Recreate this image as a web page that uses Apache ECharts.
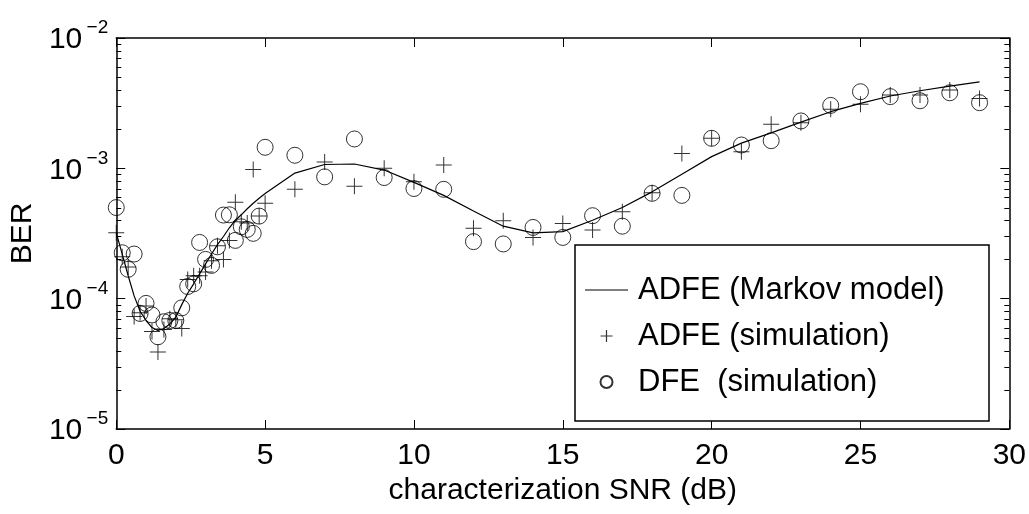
<!DOCTYPE html>
<html>
<head>
<meta charset="utf-8">
<title>BER vs characterization SNR</title>
<script src="https://cdn.jsdelivr.net/npm/echarts@6/dist/echarts.min.js"></script>
<style>
  html, body { margin: 0; padding: 0; background: #fff; }
  #chart { width: 1029px; height: 514px; }
</style>
</head>
<body>
<div id="chart"></div>
<script>
// characterization SNR (dB) at which every curve is evaluated
const snr = [
  0, 0.2, 0.4, 0.6, 0.8, 1.0, 1.2, 1.4, 1.6, 1.8,
  2.0, 2.2, 2.4, 2.6, 2.8, 3.0, 3.2, 3.4, 3.6, 3.8,
  4.0, 4.2, 4.4, 4.6, 4.8, 5.0,
  6, 7, 8, 9, 10, 11, 12, 13, 14, 15, 16, 17, 18, 19,
  20, 21, 22, 23, 24, 25, 26, 27, 28, 29
];

// ADFE bit error rate predicted by the Markov model
const adfeMarkov = [
  3.2e-4, 2.2e-4, 1.5e-4, 1.05e-4, 8.0e-5, 6.8e-5, 6.0e-5, 5.7e-5, 5.9e-5, 6.4e-5,
  7.2e-5, 9.0e-5, 1.1e-4, 1.3e-4, 1.55e-4, 1.85e-4, 2.2e-4, 2.6e-4, 3.0e-4, 3.5e-4,
  4.0e-4, 4.4e-4, 4.9e-4, 5.4e-4, 5.9e-4, 6.4e-4,
  9.2e-4, 1.07e-3, 1.08e-3, 9.7e-4, 7.8e-4, 6.2e-4, 4.7e-4, 3.6e-4, 3.2e-4, 3.27e-4,
  4.0e-4, 5.0e-4, 6.6e-4, 9.0e-4, 1.23e-3, 1.56e-3, 1.87e-3, 2.26e-3, 2.72e-3, 3.15e-3,
  3.59e-3, 3.94e-3, 4.28e-3, 4.6e-3
];

// ADFE bit error rate from simulation
const adfeSim = [
  3.2e-4, 2.1e-4, 1.75e-4, 7.3e-5, 7.8e-5, 8.8e-5, 5.6e-5, 3.9e-5, 5.8e-5, 7.0e-5,
  6.9e-5, 5.9e-5, 1.4e-4, 1.5e-4, 1.5e-4, 1.6e-4, 1.95e-4, 2.55e-4, 2.0e-4, 2.8e-4,
  5.5e-4, 3.9e-4, 3.8e-4, 9.8e-4, 4.3e-4, 5.4e-4,
  6.9e-4, 1.12e-3, 7.3e-4, 1.0e-3, 7.9e-4, 1.06e-3, 3.47e-4, 3.96e-4, 2.95e-4, 3.78e-4,
  3.37e-4, 4.64e-4, 6.5e-4, 1.30e-3, 1.70e-3, 1.34e-3, 2.18e-3, 2.24e-3, 2.84e-3, 3.1e-3,
  3.65e-3, 3.65e-3, 3.99e-3, 3.44e-3
];

// DFE bit error rate from simulation
const dfeSim = [
  5.0e-4, 2.25e-4, 1.68e-4, 2.2e-4, 7.7e-5, 9.2e-5, 7.5e-5, 5.1e-5, 6.65e-5, 6.8e-5,
  6.8e-5, 8.5e-5, 1.24e-4, 1.30e-4, 2.7e-4, 2.0e-4, 1.8e-4, 2.5e-4, 4.38e-4, 4.4e-4,
  2.8e-4, 3.56e-4, 3.4e-4, 3.17e-4, 4.3e-4, 1.45e-3,
  1.26e-3, 8.6e-4, 1.68e-3, 8.5e-4, 7.0e-4, 6.9e-4, 2.74e-4, 2.63e-4, 3.52e-4, 2.95e-4,
  4.33e-4, 3.6e-4, 6.43e-4, 6.2e-4, 1.70e-3, 1.51e-3, 1.63e-3, 2.31e-3, 3.04e-3, 3.87e-3,
  3.55e-3, 3.3e-3, 3.8e-3, 3.19e-3
];

// axis ranges and tick spacing
const xTicks = [0, 5, 10, 15, 20, 25, 30];
const berDecades = [-5, -4, -3, -2];
const minorMultipliers = [2, 3, 4, 5, 6, 7, 8, 9];

const seriesNames = ['ADFE (Markov model)', 'ADFE (simulation)', 'DFE  (simulation)'];

const FONT = '"Liberation Sans", Arial, Helvetica, sans-serif';
const pairs = (ys) => snr.map((x, i) => [x, ys[i]]);

// log-axis minor tick positions (2..9 × 10^k inside each decade)
const minorTickValues = [];
for (let d = 0; d < berDecades.length - 1; d++) {
  for (const m of minorMultipliers) {
    minorTickValues.push([0, m * Math.pow(10, berDecades[d])]);
  }
}

// filled "+" marker outlines
const PLUS = 'path://M7.5,0h1v7.5h7.5v1h-7.5v7.5h-1v-7.5h-7.5v-1h7.5z';
const PLUS_LEGEND = 'path://M5.4,0h1.2v5.4h5.4v1.2h-5.4v5.4h-1.2v-5.4h-5.4v-1.2h5.4z';
// plain line sample for the model curve in the legend
const LINE_LEGEND = 'path://M0,0H43V1H0Z';

const chart = echarts.init(document.getElementById('chart'), null, { renderer: 'canvas' });

const xBase = {
  type: 'value',
  min: xTicks[0],
  max: xTicks[xTicks.length - 1],
  interval: xTicks[1] - xTicks[0],
  axisLine: { onZero: false, lineStyle: { color: '#000', width: 1.5 } },
  axisTick: { inside: true, length: 9, lineStyle: { color: '#000', width: 1 } },
  splitLine: { show: false }
};
const yBase = {
  type: 'log',
  logBase: 10,
  min: Math.pow(10, berDecades[0]),
  max: Math.pow(10, berDecades[berDecades.length - 1]),
  axisLine: { onZero: false, lineStyle: { color: '#000', width: 1.5 } },
  axisTick: { inside: true, length: 9, lineStyle: { color: '#000', width: 1 } },
  splitLine: { show: false },
  minorTick: { show: false }
};

chart.setOption({
  animation: false,
  backgroundColor: '#fff',
  grid: { left: 116, right: 19, top: 38, bottom: 85, containLabel: false },
  xAxis: [
    Object.assign({}, xBase, {
      position: 'bottom',
      axisLabel: { fontSize: 30, color: '#000', fontFamily: FONT, margin: 12 },
      name: 'characterization SNR (dB)',
      nameLocation: 'middle',
      nameGap: 44,
      nameTextStyle: { fontSize: 30, color: '#000', fontFamily: FONT }
    }),
    Object.assign({}, xBase, { position: 'top', axisLabel: { show: false } })
  ],
  yAxis: [
    Object.assign({}, yBase, {
      position: 'left',
      axisLabel: {
        margin: 8,
        color: '#000',
        fontFamily: FONT,
        // exponent on a raised first line, mantissa "10" below and to its left
        formatter: function (v) {
          const e = Math.round(Math.log10(v));
          return '{s|\u2212' + Math.abs(e) + '}\n{b|10}';
        },
        rich: {
          s: { fontSize: 19, lineHeight: 10, color: '#000', fontFamily: FONT },
          b: { fontSize: 30, lineHeight: 20, padding: [0, 26, 6, 0], color: '#000', fontFamily: FONT }
        }
      },
      name: 'BER',
      nameLocation: 'middle',
      nameGap: 76,
      nameTextStyle: { fontSize: 30, color: '#000', fontFamily: FONT }
    }),
    Object.assign({}, yBase, { position: 'right', axisLabel: { show: false } })
  ],
  legend: {
    orient: 'vertical',
    left: 575,
    top: 245,
    padding: [28, 16, 22, 10],
    itemGap: 12,
    itemWidth: 43,
    itemHeight: 12,
    borderColor: '#000',
    borderWidth: 1.5,
    backgroundColor: '#fff',
    selectedMode: false,
    textStyle: { fontSize: 31, lineHeight: 34, color: '#000', fontFamily: FONT, width: 335, padding: [0, 0, 0, 5] },
    data: [
      { name: seriesNames[0], icon: LINE_LEGEND },
      { name: seriesNames[1], icon: PLUS_LEGEND },
      { name: seriesNames[2] }
    ]
  },
  series: [
    {
      name: seriesNames[0],
      type: 'line',
      data: pairs(adfeMarkov),
      symbol: 'none',
      lineStyle: { color: '#000', width: 1.2 },
      itemStyle: { color: '#000' },
      z: 2
    },
    {
      name: seriesNames[1],
      type: 'scatter',
      data: pairs(adfeSim),
      symbol: PLUS,
      symbolSize: 16,
      itemStyle: { color: '#000' },
      z: 3
    },
    {
      name: seriesNames[2],
      type: 'scatter',
      data: pairs(dfeSim),
      symbol: 'circle',
      symbolSize: 16,
      itemStyle: { color: 'rgba(0,0,0,0)', borderColor: '#000', borderWidth: 1 },
      z: 4
    },
    {
      // minor ticks of the log axes, drawn inward on the left and right frame
      name: 'minor ticks',
      type: 'custom',
      silent: true,
      data: minorTickValues,
      z: 5,
      renderItem: function (params, api) {
        const p = api.coord([0, api.value(1)]);
        const cs = params.coordSys;
        const len = 5;
        const y = Math.round(p[1]) + 0.5;
        return {
          type: 'group',
          children: [
            { type: 'line', shape: { x1: cs.x, y1: y, x2: cs.x + len, y2: y }, style: { stroke: '#000', lineWidth: 1 } },
            { type: 'line', shape: { x1: cs.x + cs.width - len, y1: y, x2: cs.x + cs.width, y2: y }, style: { stroke: '#000', lineWidth: 1 } }
          ]
        };
      }
    }
  ]
});
</script>
</body>
</html>
